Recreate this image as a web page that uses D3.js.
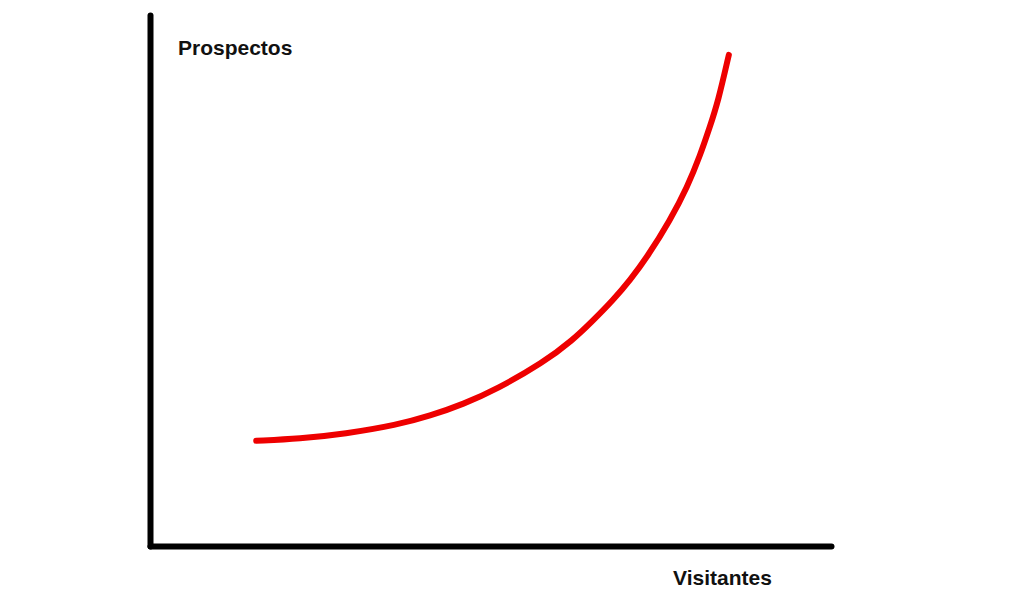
<!DOCTYPE html>
<html>
<head>
<meta charset="utf-8">
<script src="https://cdn.jsdelivr.net/npm/d3@7"></script>
<style>
  html, body { margin: 0; padding: 0; background: #fff; }
  svg { display: block; }
</style>
</head>
<body>
<svg id="chart" width="1024" height="604"></svg>
<script>
const visitantes = [15.6, 22.0, 28.6, 36.3, 41.1, 46.0, 51.0, 57.7, 62.1, 65.0, 68.0, 70.5, 73.0, 76.4, 78.9, 80.8, 82.2, 83.4, 85.0];
const prospectos = [19.8, 20.2, 21.1, 22.8, 24.5, 26.7, 29.6, 34.5, 38.8, 42.4, 46.3, 50.1, 54.4, 61.4, 67.6, 73.6, 78.9, 83.6, 92.5];
const xLabel = "Visitantes";
const yLabel = "Prospectos";

const svg = d3.select("#chart");
const x = d3.scaleLinear().domain([0, 100]).range([150, 831]);
const y = d3.scaleLinear().domain([0, 100]).range([546, 15]);

const pts = visitantes.map((v, i) => [v, prospectos[i]]);

const xAxis = svg.append("g")
  .attr("transform", `translate(0,${y(0)})`)
  .call(d3.axisBottom(x).ticks(0).tickSize(0).tickSizeOuter(0));
const yAxis = svg.append("g")
  .attr("transform", `translate(${x(0)},0)`)
  .call(d3.axisLeft(y).ticks(0).tickSize(0).tickSizeOuter(0));
[xAxis, yAxis].forEach(g => {
  g.selectAll("text").remove();
  g.select(".domain")
    .attr("stroke", "#000")
    .attr("stroke-width", 6)
    .attr("stroke-linecap", "round");
});

const line = d3.line()
  .x(d => x(d[0]))
  .y(d => y(d[1]))
  .curve(d3.curveBasis);

svg.append("path")
  .datum(pts)
  .attr("d", line)
  .attr("fill", "none")
  .attr("stroke", "#ee0000")
  .attr("stroke-width", 6)
  .attr("stroke-linecap", "round");

svg.append("text")
  .attr("x", 178)
  .attr("y", 55)
  .attr("font-family", "'Liberation Sans', Arial, sans-serif")
  .attr("font-weight", "bold")
  .attr("font-size", 21)
  .attr("fill", "#111")
  .text(yLabel);

svg.append("text")
  .attr("x", 673)
  .attr("y", 585)
  .attr("font-family", "'Liberation Sans', Arial, sans-serif")
  .attr("font-weight", "bold")
  .attr("font-size", 21)
  .attr("fill", "#111")
  .text(xLabel);
</script>
</body>
</html>
